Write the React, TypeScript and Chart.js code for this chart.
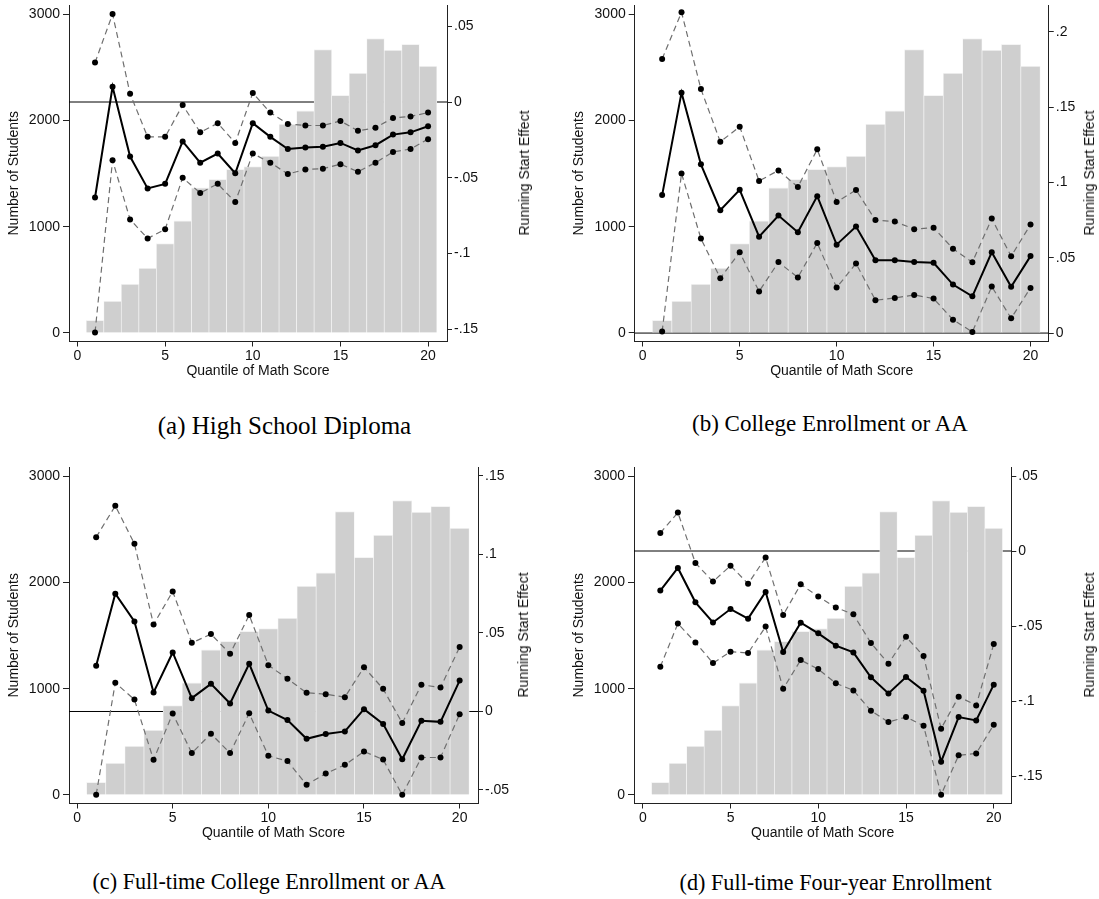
import React, { useEffect, useRef } from "react";
import { Chart, registerables } from "chart.js";

Chart.register(...registerables);

// ---------------- data ----------------
const quantiles = [1, 2, 3, 4, 5, 6, 7, 8, 9, 10, 11, 12, 13, 14, 15, 16, 17, 18, 19, 20];
const studentCounts = [120, 300, 460, 610, 840, 1055, 1365, 1445, 1540, 1565, 1665, 1965, 2090, 2665, 2235, 2445, 2770, 2660, 2715, 2510];

const leftTicks = [0, 1000, 2000, 3000];
const xTicks = [0, 5, 10, 15, 20];

// (a) High School Diploma
const effectA = [-0.063, 0.01, -0.036, -0.057, -0.054, -0.026, -0.04, -0.034, -0.047, -0.014, -0.023, -0.031, -0.03, -0.0295, -0.027, -0.032, -0.0285, -0.0215, -0.02, -0.016];
const upperA = [0.026, 0.058, 0.0055, -0.023, -0.023, -0.002, -0.02, -0.014, -0.027, 0.006, -0.007, -0.0145, -0.0155, -0.0155, -0.0125, -0.019, -0.017, -0.0105, -0.0095, -0.007];
const lowerA = [-0.152, -0.0385, -0.0775, -0.09, -0.084, -0.05, -0.06, -0.054, -0.066, -0.034, -0.04, -0.0475, -0.0445, -0.044, -0.041, -0.046, -0.04, -0.033, -0.031, -0.0245];
const rightTicksA = [-0.15, -0.1, -0.05, 0, 0.05];

// (b) College Enrollment or AA
const effectB = [0.0916, 0.1596, 0.112, 0.0816, 0.0951, 0.064, 0.078, 0.0669, 0.0909, 0.0587, 0.0707, 0.0484, 0.0484, 0.0471, 0.0467, 0.0322, 0.0244, 0.0536, 0.0307, 0.0511];
const upperB = [0.182, 0.213, 0.162, 0.127, 0.137, 0.101, 0.108, 0.097, 0.122, 0.087, 0.095, 0.075, 0.074, 0.069, 0.07, 0.056, 0.047, 0.076, 0.051, 0.072];
const lowerB = [0.001, 0.106, 0.0627, 0.0364, 0.0536, 0.0276, 0.0471, 0.0369, 0.0598, 0.0302, 0.0462, 0.0218, 0.0233, 0.0253, 0.0229, 0.0089, 0.0007, 0.0309, 0.0098, 0.03];
const rightTicksB = [0, 0.05, 0.1, 0.15, 0.2];

// (c) Full-time College Enrollment or AA
const effectC = [0.0291, 0.075, 0.0573, 0.0121, 0.0376, 0.0085, 0.0176, 0.0051, 0.0304, 0.0006, -0.0055, -0.0174, -0.0144, -0.0127, 0.0015, -0.0079, -0.0304, -0.0059, -0.0066, 0.0197];
const upperC = [0.111, 0.131, 0.1068, 0.0554, 0.0764, 0.0437, 0.0493, 0.0367, 0.0614, 0.0295, 0.0208, 0.0119, 0.011, 0.0091, 0.0282, 0.0144, -0.0074, 0.017, 0.0153, 0.041];
const lowerC = [-0.0531, 0.0183, 0.0076, -0.0308, -0.0013, -0.0265, -0.0142, -0.0265, -0.0011, -0.0282, -0.0316, -0.0467, -0.0395, -0.034, -0.0255, -0.0306, -0.0531, -0.0293, -0.0293, -0.0017];
const rightTicksC = [-0.05, 0, 0.05, 0.1, 0.15];

// (d) Full-time Four-year Enrollment
const effectD = [-0.0264, -0.0113, -0.0342, -0.0476, -0.0387, -0.0451, -0.0273, -0.0673, -0.0478, -0.0549, -0.0631, -0.0676, -0.0842, -0.0949, -0.084, -0.0931, -0.1404, -0.1107, -0.1129, -0.0891];
const upperD = [0.012, 0.0256, -0.008, -0.0204, -0.0098, -0.0218, -0.0044, -0.0427, -0.0222, -0.0304, -0.0376, -0.0422, -0.0613, -0.0751, -0.0571, -0.07, -0.1184, -0.0971, -0.1029, -0.062];
const lowerD = [-0.0771, -0.0484, -0.0609, -0.0747, -0.0671, -0.068, -0.0504, -0.0918, -0.0727, -0.0787, -0.0882, -0.0929, -0.1064, -0.114, -0.1107, -0.1164, -0.1624, -0.1362, -0.1349, -0.1158];
const rightTicksD = [-0.15, -0.1, -0.05, 0, 0.05];

// ---------------- panel configuration ----------------
const SANS = "'Liberation Sans', Arial, Helvetica, sans-serif";
const SERIF = "'Liberation Serif', 'Times New Roman', serif";

type Geom = {
  cx: number; cy: number; w: number; h: number;
  pl: number; pr: number; pt: number; pb: number;
  yTitle: number; rTitleX: number; capX: number; capY: number; capSize: number;
};

type PanelCfg = {
  caption: string;
  effect: number[]; upper: number[]; lower: number[];
  rTicks: number[]; rMin: number; rMax: number;
  xMin: number; xMax: number;
  g: Geom;
};

const panels: PanelCfg[] = [
  {
    caption: "(a) High School Diploma",
    effect: effectA, upper: upperA, lower: lowerA,
    rTicks: rightTicksA, rMin: -0.158, rMax: 0.064,
    xMin: -0.485, xMax: 21.08,
    g: { cx: 0, cy: 0, w: 540, h: 390, pl: 69, pr: 447, pt: 5, pb: 341.5, yTitle: 14, rTitleX: 523.5, capX: 284.5, capY: 425, capSize: 25 },
  },
  {
    caption: "(b) College Enrollment or AA",
    effect: effectB, upper: upperB, lower: lowerB,
    rTicks: rightTicksB, rMin: -0.0056, rMax: 0.2178,
    xMin: -0.415, xMax: 20.94,
    g: { cx: 565, cy: 0, w: 534, h: 390, pl: 69.7, pr: 483.75, pt: 5, pb: 341.5, yTitle: 13.7, rTitleX: 1089, capX: 830, capY: 423, capSize: 23 },
  },
  {
    caption: "(c) Full-time College Enrollment or AA",
    effect: effectC, upper: upperC, lower: lowerC,
    rTicks: rightTicksC, rMin: -0.0586, rMax: 0.1557,
    xMin: -0.42, xMax: 20.96,
    g: { cx: 0, cy: 462, w: 540, h: 390, pl: 69, pr: 478, pt: 5, pb: 341.5, yTitle: 14, rTitleX: 523, capX: 269, capY: 882, capSize: 22.2 },
  },
  {
    caption: "(d) Full-time Four-year Enrollment",
    effect: effectD, upper: upperD, lower: lowerD,
    rTicks: rightTicksD, rMin: -0.1683, rMax: 0.056,
    xMin: -0.5, xMax: 21.0,
    g: { cx: 565, cy: 462, w: 534, h: 390, pl: 69, pr: 446.3, pt: 5, pb: 341.5, yTitle: 13.7, rTitleX: 1089, capX: 835.6, capY: 883, capSize: 22.2 },
  },
];

const fmtRight = (v: number) => {
  const r = Math.round(v * 1000) / 1000;
  if (r === 0) return "0";
  return String(r).replace("0.", ".");
};

function Panel({ cfg }: { cfg: PanelCfg }) {
  const ref = useRef<HTMLCanvasElement>(null);
  const g = cfg.g;

  useEffect(() => {
    if (!ref.current) return;
    const pts = (vals: number[]) => quantiles.map((q, i) => ({ x: q, y: vals[i] }));
    const tickFont = { family: SANS, size: 14 };
    const axisColor = "#222";
    const dashed = {
      type: "line" as const,
      xAxisID: "x",
      yAxisID: "y2",
      borderColor: "#6f6f6f",
      borderWidth: 1.2,
      borderDash: [6, 4],
      pointRadius: 3,
      pointBackgroundColor: "#000",
      pointBorderWidth: 0,
      tension: 0,
      order: 2,
    };

    const chart = new Chart(ref.current, {
      type: "bar",
      data: {
        datasets: [
          {
            type: "line",
            label: "zero",
            data: [{ x: cfg.xMin, y: 0 }, { x: cfg.xMax, y: 0 }],
            xAxisID: "x",
            yAxisID: "y2",
            borderColor: "#000",
            borderWidth: 1,
            pointRadius: 0,
            order: 4,
          },
          {
            type: "bar",
            label: "Number of Students",
            data: pts(studentCounts),
            xAxisID: "x",
            yAxisID: "y",
            backgroundColor: "#cfcfcf",
            borderColor: "#f4f4f4",
            borderWidth: { top: 1, left: 0.7, right: 0.7, bottom: 0 },
            borderSkipped: false,
            barPercentage: 1,
            categoryPercentage: 1,
            order: 3,
          },
          { ...dashed, label: "upper", data: pts(cfg.upper) },
          { ...dashed, label: "lower", data: pts(cfg.lower) },
          {
            type: "line",
            label: "Running Start Effect",
            data: pts(cfg.effect),
            xAxisID: "x",
            yAxisID: "y2",
            borderColor: "#000",
            borderWidth: 2,
            pointRadius: 3,
            pointBackgroundColor: "#000",
            pointBorderWidth: 0,
            tension: 0,
            order: 1,
          },
        ] as any,
      },
      options: {
        responsive: false,
        animation: false,
        devicePixelRatio: 1,
        events: [],
        layout: { padding: { top: g.pt, left: 0, right: 0, bottom: 0 } },
        plugins: { legend: { display: false }, tooltip: { enabled: false }, title: { display: false } },
        scales: {
          x: {
            type: "linear",
            position: "bottom",
            min: cfg.xMin,
            max: cfg.xMax,
            offset: false,
            afterBuildTicks: (s: any) => { s.ticks = xTicks.map((v) => ({ value: v })); },
            afterFit: (s: any) => { s.height = g.h - g.pb; s.paddingLeft = 0; s.paddingRight = 0; },
            ticks: { font: tickFont, color: "#111", padding: 1, maxRotation: 0, autoSkip: false, callback: (v: any) => String(v) },
            grid: { display: true, drawOnChartArea: false, drawTicks: true, tickLength: 5, color: axisColor, offset: false },
            border: { display: true, color: axisColor, width: 1 },
            title: { display: true, text: "Quantile of Math Score", font: tickFont, color: "#111", padding: { top: 0, bottom: 10.6 } },
          },
          y: {
            type: "linear",
            position: "left",
            min: -80,
            max: 3085,
            afterBuildTicks: (s: any) => { s.ticks = leftTicks.map((v) => ({ value: v })); },
            afterFit: (s: any) => { s.width = g.pl; s.paddingTop = 0; s.paddingBottom = 0; },
            ticks: { font: tickFont, color: "#111", padding: 3, callback: (v: any) => String(v) },
            grid: { display: true, drawOnChartArea: false, drawTicks: true, tickLength: 6, color: axisColor },
            border: { display: true, color: axisColor, width: 1 },
            title: { display: true, text: "Number of Students", font: tickFont, color: "#111", padding: { top: g.yTitle - 8.4, bottom: 0 } },
          },
          y2: {
            type: "linear",
            position: "right",
            min: cfg.rMin,
            max: cfg.rMax,
            afterBuildTicks: (s: any) => { s.ticks = cfg.rTicks.map((v) => ({ value: v })); },
            afterFit: (s: any) => { s.width = g.w - g.pr; s.paddingTop = 0; s.paddingBottom = 0; },
            ticks: { font: tickFont, color: "#111", padding: 2, callback: (v: any) => fmtRight(Number(v)) },
            grid: { display: true, drawOnChartArea: false, drawTicks: true, tickLength: 5, color: axisColor },
            border: { display: true, color: axisColor, width: 1 },
            title: { display: false },
          },
        },
      } as any,
    });
    return () => chart.destroy();
  }, []);

  return (
    <>
      <canvas
        ref={ref}
        width={g.w}
        height={g.h}
        style={{ position: "absolute", left: g.cx, top: g.cy, width: g.w, height: g.h }}
      />
      <div
        style={{
          position: "absolute",
          left: g.rTitleX,
          top: g.cy + (g.pt + g.pb) / 2,
          transform: "translate(-50%, -50%) rotate(-90deg)",
          fontFamily: SANS,
          fontSize: 14,
          lineHeight: "16px",
          color: "#111",
          whiteSpace: "nowrap",
        }}
      >
        Running Start Effect
      </div>
      <div
        style={{
          position: "absolute",
          left: g.capX,
          top: g.capY,
          transform: "translate(-50%, -50%)",
          fontFamily: SERIF,
          fontSize: g.capSize,
          lineHeight: 1,
          color: "#000",
          whiteSpace: "nowrap",
        }}
      >
        {cfg.caption}
      </div>
    </>
  );
}

export default function App() {
  return (
    <div style={{ position: "absolute", left: 0, top: 0, width: 1099, height: 899, background: "#fff", overflow: "hidden" }}>
      {panels.map((p, i) => (
        <Panel key={i} cfg={p} />
      ))}
    </div>
  );
}
